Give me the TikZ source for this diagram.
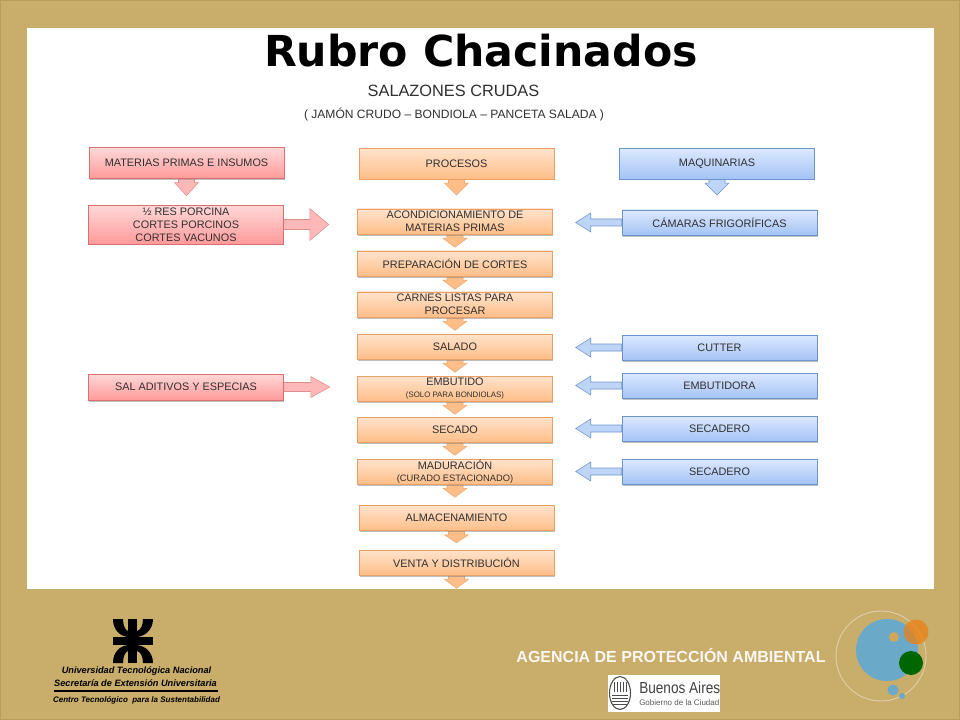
\documentclass[tikz,border=0pt]{standalone}
\usepackage{fontspec}
\setmainfont{Liberation Sans}
\newfontfamily\titlefont{DejaVu Sans}
\usetikzlibrary{shadows,backgrounds}
\definecolor{gold}{HTML}{C8AD6B}
\definecolor{goldedge}{HTML}{B89C5C}
\definecolor{inktext}{HTML}{303030}
\definecolor{redtop}{HTML}{FFD8D8}
\definecolor{redbot}{HTML}{FF9A9A}
\definecolor{rededge}{HTML}{D87070}
\definecolor{orgtop}{HTML}{FFE3CC}
\definecolor{orgbot}{HTML}{FFBE88}
\definecolor{orgedge}{HTML}{E8A066}
\definecolor{blutop}{HTML}{DDE9FF}
\definecolor{blubot}{HTML}{A4C3F5}
\definecolor{bluedge}{HTML}{6C94CC}
\definecolor{seablue}{HTML}{6BA9C9}
\tikzset{
    flatbox/.style={rectangle, inner sep=0pt, minimum width=146.25pt, minimum height=18.75pt,
        align=center, text=inktext, font=\fontsize{8.15}{9.8}\selectfont,
        drop shadow={shadow xshift=0.6pt, shadow yshift=-1.2pt, opacity=0.5}},
    redfill/.style={draw=rededge!80!white, fill=redbot!70!white},
    orgfill/.style={draw=orgedge!70!orgbot, fill=orgbot},
    blufill/.style={draw=bluedge, fill=blubot!70!white},
    redbox/.style={flatbox, draw=rededge, top color=redtop, bottom color=redbot},
    orgbox/.style={flatbox, draw=orgedge, top color=orgtop, bottom color=orgbot},
    blubox/.style={flatbox, draw=bluedge, top color=blutop, bottom color=blubot},
    tallbox/.style={minimum height=23pt},
    logotext/.style={inner sep=0pt, text=black, font=\fontsize{6.9}{8}\bfseries\itshape\selectfont},
}
% block arrows hanging off a box: name, fill, length
\newcommand{\downcall}[3]{\draw[#2, shift={(#1.south)}] (-8,0) -- (-8,4) -- (-12,4) -- (0,#3) -- (12,4) -- (8,4) -- (8,0) -- cycle;}
\newcommand{\rightcall}[4]{\draw[redfill, shift={(#1.east)}] (0,-#2) -- (#4-19,-#2) -- (#4-19,-#3) -- (#4,0) -- (#4-19,#3) -- (#4-19,#2) -- (0,#2) -- cycle;}
\newcommand{\leftcall}[1]{\draw[blufill, shift={(#1.west)}] (0,-3.5) -- (-31,-3.5) -- (-31,-9.5) -- (-46,0) -- (-31,9.5) -- (-31,3.5) -- (0,3.5) -- cycle;}
\begin{document}
\begin{tikzpicture}[x=0.75pt, y=-0.75pt]
    \useasboundingbox (0,0) rectangle (960,720);
    \begin{scope}[on background layer]
        \fill[gold] (0,0) rectangle (960,720);
        \draw[goldedge, line width=1pt] (0.5,0.5) rectangle (959.5,719.5);
        \fill[white] (27,28) rectangle (934,589);
    \end{scope}

    % titles
    \node[inner sep=0pt, font=\titlefont\fontsize{32}{36}\bfseries\selectfont] (title) at (481,51) {Rubro Chacinados};
    \node[inner sep=0pt, text=inktext, font=\fontsize{12.25}{14}\selectfont] (subtitle) at (453.5,91) {SALAZONES CRUDAS};
    \node[inner sep=0pt, text=inktext, font=\fontsize{9.05}{11}\selectfont] (products) at (454,115) {( JAMÓN CRUDO – BONDIOLA – PANCETA SALADA )};

    % materias primas
    \node[redbox, tallbox] (materias) at (186.5,163) {MATERIAS PRIMAS E INSUMOS};
    \node[redbox, minimum height=29pt] (res) at (186,224.5) {½ RES PORCINA\\CORTES PORCINOS\\CORTES VACUNOS};
    \node[redbox, minimum height=19.5pt] (sal) at (186,387) {SAL ADITIVOS Y ESPECIAS};

    % procesos
    \node[orgbox, tallbox] (procesos) at (456.5,163.5) {PROCESOS};
    \node[orgbox] (acond) at (455,221.5) {ACONDICIONAMIENTO DE\\MATERIAS PRIMAS};
    \node[orgbox] (prepara) at (455,263.5) {PREPARACIÓN DE CORTES};
    \node[orgbox] (carnes) at (455,304.5) {CARNES LISTAS PARA\\PROCESAR};
    \node[orgbox] (salado) at (455,346.5) {SALADO};
    \node[orgbox] (embutido) at (455,388.5) {EMBUTIDO\\[-1pt]{\fontsize{5.9}{6}\selectfont (SOLO PARA BONDIOLAS)}};
    \node[orgbox] (secado) at (455,429.5) {SECADO};
    \node[orgbox] (madura) at (455,471.5) {MADURACIÓN\\[-1pt]{\fontsize{7}{7}\selectfont (CURADO ESTACIONADO)}};
    \node[orgbox] (almacen) at (456.5,518) {ALMACENAMIENTO};
    \node[orgbox] (venta) at (456.5,562.5) {VENTA Y DISTRIBUCIÓN};

    % maquinarias
    \node[blubox, tallbox] (maquinas) at (717,163.5) {MAQUINARIAS};
    \node[blubox] (camaras) at (719.5,222.5) {CÁMARAS FRIGORÍFICAS};
    \node[blubox] (cutter) at (719.5,347.5) {CUTTER};
    \node[blubox] (embutidora) at (719.5,385.5) {EMBUTIDORA};
    \node[blubox] (secaderoa) at (719.5,428.5) {SECADERO};
    \node[blubox] (secaderob) at (719.5,471.5) {SECADERO};

    % block arrows
    \begin{scope}[on background layer]
        \downcall{materias}{redfill}{17}
        \rightcall{res}{5}{16}{45}
        \rightcall{sal}{4.5}{10.5}{46}
        \downcall{procesos}{orgfill}{16}
        \downcall{acond}{orgfill}{13}
        \downcall{prepara}{orgfill}{13}
        \downcall{carnes}{orgfill}{13}
        \downcall{salado}{orgfill}{13}
        \downcall{embutido}{orgfill}{13}
        \downcall{secado}{orgfill}{13}
        \downcall{madura}{orgfill}{13}
        \downcall{almacen}{orgfill}{12}
        \downcall{venta}{orgfill}{13}
        \downcall{maquinas}{blufill}{16}
        \leftcall{camaras}
        \leftcall{cutter}
        \leftcall{embutidora}
        \leftcall{secaderoa}
        \leftcall{secaderob}
    \end{scope}

    % escudo UTN
    \fill[black] (128,619) rectangle (137,663);
    \fill[black] (113,637) rectangle (153,645);
    \fill[black] (113,619) -- (123,619) .. controls (123,625) and (125,630) .. (128,631) -- (128,637) .. controls (119,636) and (113,629) .. (113,619) -- cycle;
    \fill[black] (153,619) -- (143,619) .. controls (143,625) and (141,630) .. (137,631) -- (137,637) .. controls (146,636) and (153,629) .. (153,619) -- cycle;
    \fill[black] (113,663) -- (123,663) .. controls (123,657) and (125,652) .. (128,651) -- (128,645) .. controls (119,646) and (113,653) .. (113,663) -- cycle;
    \fill[black] (153,663) -- (143,663) .. controls (143,657) and (141,652) .. (137,651) -- (137,645) .. controls (146,646) and (153,653) .. (153,663) -- cycle;
    \node[logotext] (utn) at (136.5,671) {Universidad Tecnológica Nacional};
    \node[logotext] (secretaria) at (135.5,683) {Secretaría de Extensión Universitaria};
    \node[logotext, font=\fontsize{6}{7}\bfseries\itshape\selectfont] (centro) at (136.5,700) {Centro Tecnológico\ \ para la Sustentabilidad};
    \draw[black, line width=0.9pt] (54,691) -- (218,691);

    % agencia
    \node[inner sep=0pt, text=white!92!gold, font=\fontsize{12}{13}\bfseries\selectfont] (agencia) at (671,655) {AGENCIA DE PROTECCIÓN AMBIENTAL};
    \draw[white!92!gold, opacity=0.45, line width=0.7pt] (881,656) circle[radius=45];
    \fill[seablue] (887,650) circle[radius=31];
    \fill[orange!70!brown, opacity=0.75] (916,632) circle[radius=12.5];
    \fill[gold!85!orange] (894,637) circle[radius=5];
    \fill[green!40!black] (911,663) circle[radius=12];
    \fill[seablue] (893,690) circle[radius=5.5];
    \fill[seablue] (902,696) circle[radius=3];

    % buenos aires
    \fill[white] (608,675) rectangle (720,712);
    \draw[black!70, line width=0.8pt] (620,693) ellipse[x radius=10.5, y radius=16.5];
    \foreach \sx in {614,617,620,623,626}
        \draw[black!70, line width=0.7pt] (\sx,682) -- (\sx,692);
    \foreach \sy in {695,698,701,704}
        \draw[black!70, line width=0.7pt] (612,\sy) -- (628,\sy);
    \node[inner sep=0pt, anchor=west, text=black!75, font=\fontsize{12}{13}\selectfont] (buenos) at (639,688) {\scalebox{0.85}[1]{Buenos Aires}};
    \node[inner sep=0pt, anchor=west, text=black!65, font=\fontsize{6}{7}\selectfont] (gobierno) at (639,703) {Gobierno de la Ciudad};
\end{tikzpicture}
\end{document}
